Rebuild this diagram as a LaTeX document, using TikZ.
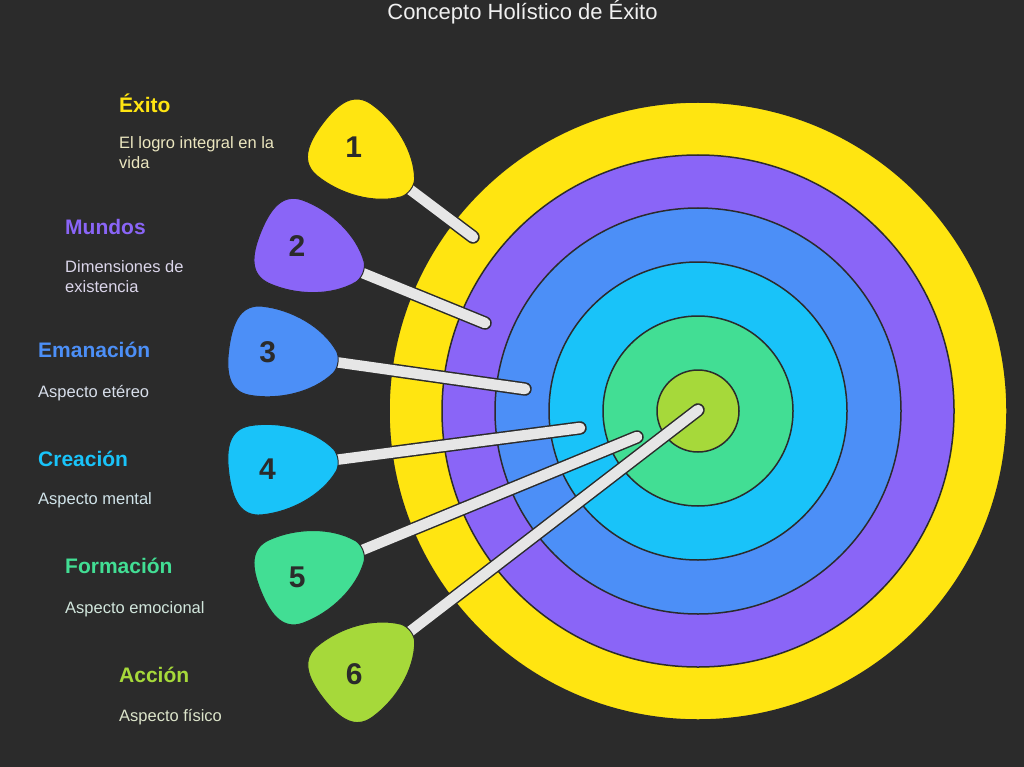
\documentclass[tikz,border=0pt]{standalone}
\usepackage{fontspec}
\setmainfont{Liberation Sans}
\usetikzlibrary{calc}
\definecolor{bg}{HTML}{2B2B2B}
\definecolor{cyel}{HTML}{FFE511}
\definecolor{cpur}{HTML}{8A65F7}
\definecolor{cblu}{HTML}{4C8FF7}
\definecolor{ccya}{HTML}{19C3F9}
\definecolor{cgrn}{HTML}{42DE94}
\definecolor{clim}{HTML}{A6D93A}
\definecolor{stickc}{HTML}{E6E6E6}
\definecolor{titlec}{HTML}{F0F0F0}
\colorlet{dyel}{cyel!20!white!92!black}
\colorlet{dpur}{cpur!15!white!92!black}
\colorlet{dblu}{cblu!12!white!92!black}
\colorlet{dcya}{ccya!12!white!92!black}
\colorlet{dgrn}{cgrn!15!white!92!black}
\colorlet{dlim}{clim!18!white!92!black}
\tikzset{
  ring/.style={circle, draw=bg, line width=1.5pt, inner sep=0pt, outer sep=0pt},
  stickout/.style={line width=13.5pt, draw=bg, line cap=round},
  stickin/.style={line width=10.5pt, draw=stickc, line cap=round},
  dhead/.pic={\path[pic actions] (0,-11) .. controls (-17,-33) and (-50,-46) .. (-80,-45)
      .. controls (-100,-44) and (-107,-28) .. (-107,0)
      .. controls (-107,28) and (-100,44) .. (-80,45)
      .. controls (-50,46) and (-17,33) .. (0,11)
      .. controls (4,5) and (4,-5) .. (0,-11) -- cycle;},
  headstyle/.style={draw=bg, line width=1pt},
  num/.style={font=\fontsize{30}{30}\selectfont\bfseries, text=bg, inner sep=0pt},
  ttl/.style={font=\fontsize{22}{23}\selectfont, text=titlec, inner sep=0pt, anchor=base},
  hd/.style={font=\fontsize{21}{22}\selectfont\bfseries, inner sep=0pt, anchor=base west},
  ds/.style={font=\fontsize{16.5}{18}\selectfont, inner sep=0pt, anchor=base west}
}
\begin{document}
\begin{tikzpicture}[x=1pt,y=-1pt]
\fill[bg] (0,0) rectangle (1024,767);
\useasboundingbox (0,0) rectangle (1024,767);

% title
\node[ttl] (title) at (522.5,20) {Concepto Holístico de Éxito};

% target rings
\node[ring, fill=cyel, minimum size=618pt] (r1) at (698,411) {};
\node[ring, fill=cpur, minimum size=512pt] (r2) at (698,411) {};
\node[ring, fill=cblu, minimum size=406pt] (r3) at (698,411) {};
\node[ring, fill=ccya, minimum size=298pt] (r4) at (698,411) {};
\node[ring, fill=cgrn, minimum size=190pt] (r5) at (698,411) {};
\node[ring, fill=clim, minimum size=82pt] (r6) at (698,411) {};

% stick coordinates
\coordinate (s1) at (408,188); \coordinate (e1) at (473,237);
\coordinate (s2) at (360,272); \coordinate (e2) at (485,323);
\coordinate (s3) at (335,362); \coordinate (e3) at (525,389);
\coordinate (s4) at (335,460); \coordinate (e4) at (580,428);
\coordinate (s5) at (360,551); \coordinate (e5) at (637,437);
\coordinate (s6) at (408,633); \coordinate (e6) at (698,410);

% sticks
\foreach \i in {1,...,6}{
  \draw[stickout] (s\i) -- (e\i);
  \draw[stickin] (s\i) -- (e\i);
}

% heads
\pic[headstyle, fill=cyel, rotate=-37.0] at (s1) {dhead};
\pic[headstyle, fill=cpur, rotate=-22.2] at (s2) {dhead};
\pic[headstyle, fill=cblu, rotate=-8.1] at (s3) {dhead};
\pic[headstyle, fill=ccya, rotate=7.4] at (s4) {dhead};
\pic[headstyle, fill=cgrn, rotate=22.4] at (s5) {dhead};
\pic[headstyle, fill=clim, rotate=37.6] at (s6) {dhead};

% numbers
\node[num] (n1) at ($(s1)!-68pt!(e1)$) {1};
\node[num] (n2) at ($(s2)!-68pt!(e2)$) {2};
\node[num] (n3) at ($(s3)!-68pt!(e3)$) {3};
\node[num] (n4) at ($(s4)!-68pt!(e4)$) {4};
\node[num] (n5) at ($(s5)!-68pt!(e5)$) {5};
\node[num] (n6) at ($(s6)!-68pt!(e6)$) {6};

% labels
\node[hd, text=cyel] (h1) at (119,113) {Éxito};
\node[ds, text=dyel] (d1a) at (119,149) {El logro integral en la};
\node[ds, text=dyel] (d1b) at (119,169) {vida};

\node[hd, text=cpur] (h2) at (65,235) {Mundos};
\node[ds, text=dpur] (d2a) at (65,272) {Dimensiones de};
\node[ds, text=dpur] (d2b) at (65,292) {existencia};

\node[hd, text=cblu] (h3) at (38,357) {Emanación};
\node[ds, text=dblu] (d3) at (38,397) {Aspecto etéreo};

\node[hd, text=ccya] (h4) at (38,466) {Creación};
\node[ds, text=dcya] (d4) at (38,504) {Aspecto mental};

\node[hd, text=cgrn] (h5) at (65,573.5) {Formación};
\node[ds, text=dgrn] (d5) at (65,613) {Aspecto emocional};

\node[hd, text=clim] (h6) at (119,682.5) {Acción};
\node[ds, text=dlim] (d6) at (119,721) {Aspecto físico};
\end{tikzpicture}
\end{document}
